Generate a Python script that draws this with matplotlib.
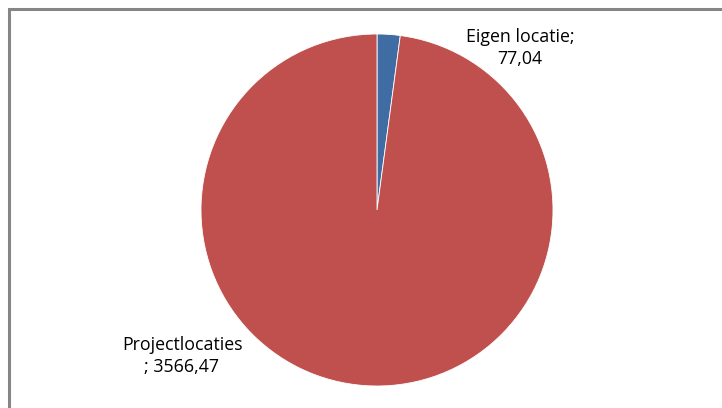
import matplotlib
matplotlib.use("Agg")
import matplotlib.pyplot as plt
from matplotlib.patches import Rectangle

categories = ["Eigen locatie", "Projectlocaties"]
values = [77.04, 3566.47]
colors = ["#3F6DA3", "#C0504D"]

W, H = 722, 408
fig = plt.figure(figsize=(W / 100, H / 100), dpi=100)
ax = fig.add_axes([0, 0, 1, 1])

# chart border, runs off the right and bottom edge like the original
ax.add_patch(Rectangle((9, -20), W + 40, H - 9 + 20, fill=False,
                       edgecolor="#868686", linewidth=2.2))

cx, cy, r = 377, H - 210, 176
ax.pie(values, colors=colors, startangle=90, counterclock=False,
       center=(cx, cy), radius=r, frame=True,
       wedgeprops=dict(edgecolor="white", linewidth=0.6))
ax.set_xlim(0, W)
ax.set_ylim(0, H)
ax.set_aspect("equal")
ax.axis("off")


def fmt(v):
    return f"{v:.2f}".replace(".", ",")


font = dict(family=["Open Sans", "DejaVu Sans"], fontsize=12.8, color="black",
            ha="center", va="center", linespacing=1.3)
ax.text(520, H - 48, f"{categories[0]};\n{fmt(values[0])}", **font)
ax.text(182, H - 356, f"{categories[1]}\n; {fmt(values[1])}", **font)

fig.savefig("out.png", dpi=100)
